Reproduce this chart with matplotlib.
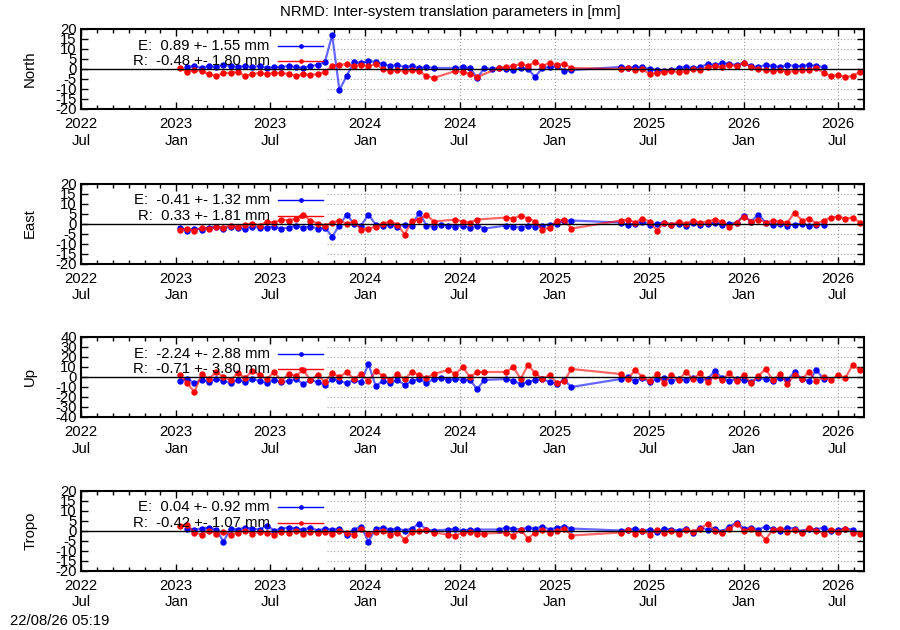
import numpy as np
import pandas as pd
import matplotlib
matplotlib.use('Agg')
import matplotlib.pyplot as plt
import matplotlib.dates as mdates

plt.rcParams['font.family'] = ['Liberation Sans', 'DejaVu Sans']
plt.rcParams['axes.unicode_minus'] = False
fs = 10.7

nan = np.nan

# sampling epochs: first campaign, then gap in spring 2025, then second one
days_a = pd.date_range('2023-01-08', periods=55, freq='14D')
days_b = pd.date_range('2025-05-08', periods=34, freq='14D')
t = days_a.append(days_b)

panels = ['North', 'East', 'Up', 'Tropo']

north_e = [nan, 1, 1.5, 0.5, 1.5, 1, 2, 1.5, 1, 1.5,
           1, 1.5, 0.5, 1, 1, 1.5, 1, 0.5, 1.5, 2,
           3.5, 17, -10.5, -3.5, 3.5, 3, 4, 3.5, 2.5, 1.5,
           2, 1, 1.5, 0.5, 1, 0.5, nan, nan, 0.5, 1,
           0.5, -4.5, 0.5, 0, 0.5, 0, -0.5, 0.5, 0, -4,
           0.5, 1, 1.5, -1, -0.5,
           1, 0.5, 1, 1, 0, -0.5, -1, -0.5, 0.5, 1,
           0.5, 1, 2.5, 2, 3, 2.5, 2, 3, 1.5, 1,
           2, 1.5, 1, 2, 1.5, 1.5, 2, 1.5, 1, nan,
           nan, nan, nan, nan]
north_r = [0.5, -1.5, -0.5, -1, -2.5, -3.5, -2, -2, -1.5, -3.5,
           -2.5, -2, -2.5, -2, -2, -2.5, -3.5, -2.5, -3, -2.5,
           -1.5, 1.5, 2, 2.5, 1.5, 2, 1.5, 2.5, 0, -1,
           -0.5, -1, -0.5, -1, -3.5, -4.5, nan, nan, -1, -1.5,
           -2.5, -4, nan, nan, 0.5, 1, 1.5, 2.5, 1.5, 3.5,
           1.5, 3, 2, 2.5, 0.5,
           0, 0.5, -0.5, 0, -2.5, -2, -1.5, -1, -1.5, -1,
           0, -0.5, 1, 1.5, 1, 2, 1.5, 3, 1, 0,
           -0.5, -1, -0.5, -1.5, -1, -0.5, -0.5, 0.5, -2, -3.5,
           -3, -4, -3.5, -1.5]

east_e = [-2, -3.5, -2.5, -3, -2, -1.5, -2.5, -1.5, -2, -2.5,
          -1.5, -2, -2, -1.5, -2.5, -2, -1, -2, -1.5, -2.5,
          -2, -6.5, -1, 4.5, 0, -1, 4.5, -0.5, -1, -0.5,
          -1.5, -0.5, -1, 5.5, -1, -1.5, -0.5, -1, -1.5, -1,
          -2, -1, -2.5, nan, nan, -1, -1.5, -2, -1, -1.5,
          -1, -0.5, 0, 1.5, 1.5,
          0.5, -0.5, 0, 1, -0.5, 0, 0.5, -0.5, 0, -1,
          0.5, -0.5, 0, 0.5, -0.5, 0, 0.5, 4, 1, 4.5,
          0.5, -0.5, 0, -1, -0.5, 0, -1, -0.5, -0.5, nan,
          nan, nan, nan, nan]
east_r = [-3, -2.5, -3.5, -2, -2.5, -1.5, -2, -1, -1.5, -0.5,
          0, -1, 1, 0.5, 2, 1.5, 2.5, 4.5, 1.5, 0,
          -1, 0.5, 1.5, 0, 1, -3, -2.5, -1.5, 0, 1,
          -0.5, -5.5, 1.5, 2, 4.5, 1, nan, nan, 2, 1,
          0.5, 2, nan, nan, nan, 3, 2.5, 4, 2.5, 1,
          -3, -2, 1.5, 2, -2.5,
          1.5, 2, 0.5, 2.5, 1, -3.5, 0.5, -0.5, 1, 0,
          1.5, 0.5, 1, 2, 1, -1.5, 0.5, 3.5, 1, 2,
          0.5, 1.5, 1, 0.5, 5.5, 1.5, 2.5, 0, 1.5, 3,
          3.5, 2.5, 3, 0.5]

up_e = [-4, -2, -6, -3, -5, -2, -4, -6, -3, -5,
        -2, -4, -6, -3, -5, -4, -2, -7, -3, -5,
        -8, -2, -4, -6, -3, -5, 13, -9, -4, -6,
        -3, -8, -4, -2, -6, -2, -1, -3, -2, -3,
        -3, -12, -3, nan, nan, -2, -4, -7, -5, -3,
        -2, -5, -7, -3, -10,
        -2, 0, -4, -1, -5, -2, -1, -4, -2, -3,
        -1, -3, -2, 6, -1, -4, -2, -3, -5, -1,
        -2, -4, -1, -3, 5, -2, -4, 7, -2, nan,
        nan, nan, nan, nan]
up_r = [2, -6, -15, 3, -2, 5, 0, -3, 4, -1,
        6, 2, -2, 5, -4, 3, 1, 7, -3, 2,
        -5, 4, 0, 5, -2, 3, -4, 6, 1, -3,
        3, -2, 5, 2, -1, 3, nan, 7, 3, 10,
        0, 5, 5, nan, nan, 5, 10, -2, 12, 4,
        -2, 2, -6, -4, 8,
        3, -2, 7, 0, -4, 3, -6, 2, -3, 5,
        -2, 4, -5, 1, -3, 4, -4, 2, -6, 1,
        8, -3, 3, -7, 2, -2, 5, -4, 0, -3,
        2, -1, 12, 7]

tropo_e = [nan, 1, 0.5, 1, 1.5, 0.5, -5.5, 1, 0.5, 1.5,
           1, 0.5, 2.5, 0, 1, 1.5, 1, 0.5, 1.5, 0,
           1, 0.5, 1, -2, 0.5, 2, -5.5, 1, 1.5, 0.5,
           1, 0, 1, 3.5, 0.5, 0, nan, 0.5, 1, 0,
           0.5, 0.5, nan, nan, 0.5, 1.5, 1, 0.5, 1.5, 1,
           2, 0.5, 1.5, 2, 1,
           0, 0.5, 1, 0, 0.5, -0.5, 1, 0.5, 0, 1,
           -1, 1.5, 0.5, 1, -0.5, 2, 4, 1, 1.5, 0.5,
           2, 1, 0, 1.5, 1, -0.5, 1, 0.5, 1.5, 0,
           0.5, 1, 0.5, nan]
tropo_r = [2.5, 3, -1, -2, 0, -1.5, -0.5, -2, -1, 0,
           -1.5, -0.5, -1, -2, -0.5, -1, 0, -1.5, -0.5, -1,
           -0.5, -1.5, 0, -1, -2, 1, -1.5, -0.5, 0, -2,
           -1, -4.5, -0.5, 0, 0.5, -1, nan, -2, -2.5, -1,
           -0.5, -1.5, -1.5, nan, nan, -1, -2.5, 0.5, -4, -1,
           0.5, -1, 0, 1, -2.5,
           -1, 0.5, -1.5, 0, -2, 0.5, -1, 0, -1.5, 0.5,
           -0.5, 1, 3.5, 0, -1, 1, 3.5, 0, 1, -1,
           -4.5, 0.5, 1, -0.5, 0.5, -1, 1.5, 0, -1.5, 0.5,
           -0.5, 1, -1, -1.5]

series_e = [north_e, east_e, up_e, tropo_e]
series_r = [north_r, east_r, up_r, tropo_r]
labels_e = ['E:  0.89 +- 1.55 mm', 'E:  -0.41 +- 1.32 mm',
            'E:  -2.24 +- 2.88 mm', 'E:  0.04 +- 0.92 mm']
labels_r = ['R:  -0.48 +- 1.80 mm', 'R:  0.33 +- 1.81 mm',
            'R:  -0.71 +- 3.80 mm', 'R:  -0.42 +- 1.07 mm']
ylims = [20, 20, 40, 20]
ysteps = [5, 5, 10, 5]

title = 'NRMD: Inter-system translation parameters in [mm]'
stamp = '22/08/26 05:19'

xmin = pd.Timestamp('2022-07-01')
xmax = pd.Timestamp('2026-08-21')
grid_from = pd.Timestamp('2023-10-20')
majors = pd.date_range('2022-07-01', '2026-07-01', freq='6MS')

fig = plt.figure(figsize=(9, 6.3), dpi=100)
bottoms = [0.8270, 0.5817, 0.3381, 0.0944]

for k in range(4):
    ax = fig.add_axes([0.09, bottoms[k], 0.87, 0.127])
    lim = ylims[k]
    ax.set_xlim(xmin, xmax)
    ax.set_ylim(-lim, lim)
    yt = np.arange(-lim, lim + 1, ysteps[k])
    ax.set_yticks(yt)
    ax.set_yticklabels(['%d' % v for v in yt])

    # dotted grid, only drawn on the right part of the frame
    for y in yt:
        if y != 0 and abs(y) != lim:
            ax.hlines(y, grid_from, xmax, colors='#a0a0a0',
                      linestyles=(0, (1, 2)), lw=0.8, zorder=0.5)
    for d in majors:
        if d > grid_from:
            ax.vlines(d, -lim, lim, colors='#a0a0a0',
                      linestyles=(0, (1, 2)), lw=0.8, zorder=0.5)

    for vals, col in ((series_e[k], 'blue'), (series_r[k], 'red')):
        v = np.array(vals, float)
        m = ~np.isnan(v)
        ax.plot(t[m], v[m], '-', color=col, lw=1.6, alpha=0.6, zorder=2)
        ax.plot(t[m], v[m], 'o', color=col, ms=4.6, mew=0, zorder=2)
    ax.axhline(0, color='black', lw=1, zorder=3)

    # key, gnuplot style: text then sample
    for ky, lab, col in ((0.79, labels_e[k], 'blue'), (0.60, labels_r[k], 'red')):
        ax.text(0.241, ky, lab, transform=ax.transAxes, ha='right',
                va='center', fontsize=fs)
        ax.plot([0.252, 0.281, 0.309], [ky, ky, ky], '-', color=col, lw=1,
                marker='o', ms=3.4, mew=0, markevery=[1],
                transform=ax.transAxes, zorder=4)

    ax.xaxis.set_major_locator(mdates.MonthLocator(bymonth=[1, 7]))
    ax.xaxis.set_minor_locator(mdates.MonthLocator())
    ax.xaxis.set_major_formatter(mdates.DateFormatter('%Y\n%b'))
    ax.tick_params(which='both', direction='in', top=True, right=True,
                   labelsize=fs, width=1)
    ax.tick_params(which='major', length=5)
    ax.tick_params(which='minor', length=3)
    ax.tick_params(axis='x', pad=6)
    ax.tick_params(axis='y', pad=3)
    for s in ax.spines.values():
        s.set_linewidth(1.5)
    ax.set_ylabel(panels[k], fontsize=fs)
    ax.yaxis.set_label_coords(-0.056, 0.5)

fig.text(0.5, 1 - 12 / 630, title, ha='center', va='center', fontsize=fs)
fig.text(0.011, 1 - 621 / 630, stamp, ha='left', va='center', fontsize=fs)

fig.savefig('out.png', dpi=100)
